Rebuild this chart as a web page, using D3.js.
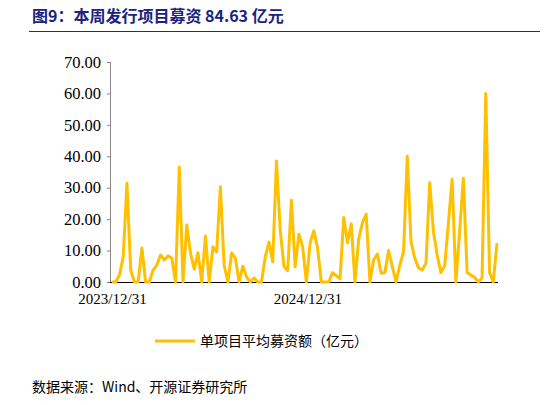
<!DOCTYPE html>
<html><head><meta charset="utf-8">
<script src="https://cdn.jsdelivr.net/npm/d3@7"></script>
<style>body{margin:0;background:#fff}</style>
</head><body><div id="chart"></div>
<script>
const startDate = "2023-12-31";
const values = [0,0,2.2,8,31.4,3.8,0,0,10.8,0,0,3.8,5.4,8.6,7,8.3,7.6,0,36.6,0,18.1,9.2,4.1,9.3,0,14.6,0,11.2,9.6,30.3,5.4,0,9.2,7.6,0,5,1.6,0,1.3,0,0,8,12.7,6.4,38.5,16.5,5,3.6,26,4.8,15.2,11.2,
  0,12.4,16.3,10.8,0,0,0,3,2,1,20.5,12.5,18.5,0,13.7,18.9,21.6,0,7,8.9,2.8,3,10,4.9,0,5.4,9.7,40,12.8,7.6,4.5,3.8,6,31.6,16,8.6,3,5.1,18.8,32.7,0,16,33,3,2.2,1.5,0,1.3,60,3,0,12.4];
const yTicks = [0,10,20,30,40,50,60,70];
const xTickDates = ["2023-12-31","2024-12-31"];
const seriesName = "单项目平均募资额（亿元）";

const W = 546, H = 405;
const svg = d3.select("#chart").append("svg").attr("width", W).attr("height", H);
const parse = d3.timeParse("%Y-%m-%d");
const t0 = parse(startDate);
const data = values.map((v, i) => ({date: d3.timeDay.offset(t0, i * 7), v}));

const x = d3.scaleTime().domain([t0, data[data.length - 1].date]).range([112, 497]);
const y = d3.scaleLinear().domain([0, 70]).range([282, 62]);

svg.append("text").attr("x", 32).attr("y", 22).attr("fill", "#1a237e")
  .attr("font-family", "'Noto Sans CJK SC'").attr("font-weight", "bold").attr("font-size", 16)
  .text("图9：本周发行项目募资 84.63 亿元");
svg.append("line").attr("x1", 29).attr("x2", 540).attr("y1", 31.5).attr("y2", 31.5)
  .attr("stroke", "#333").attr("stroke-width", 1);

const yAxis = svg.append("g").attr("transform", "translate(110,0)")
  .call(d3.axisLeft(y).tickValues(yTicks).tickFormat(d3.format(".2f")).tickSize(3).tickPadding(6));
yAxis.select(".domain").attr("stroke", "#888");
yAxis.selectAll(".tick line").attr("stroke", "#888");
yAxis.selectAll("text").attr("font-family", "'Liberation Serif'").attr("font-size", 16.5).attr("fill", "#000");

const xAxis = svg.append("g").attr("transform", "translate(0,282)")
  .call(d3.axisBottom(x).tickValues(xTickDates.map(parse)).tickFormat(d3.timeFormat("%Y/%m/%d")).tickSize(0).tickPadding(11));
xAxis.select(".domain").attr("stroke", "#000").attr("d", "M110,0.5H498");
xAxis.selectAll("text").attr("font-family", "'Liberation Serif'").attr("font-size", 15).attr("fill", "#000");

svg.append("path").datum(data)
  .attr("fill", "none").attr("stroke", "#FFC000").attr("stroke-width", 3).attr("stroke-linejoin", "round")
  .attr("d", d3.line().x(d => x(d.date)).y(d => y(d.v)));

svg.append("line").attr("x1", 155).attr("x2", 195).attr("y1", 341).attr("y2", 341)
  .attr("stroke", "#FFC000").attr("stroke-width", 3);
svg.append("text").attr("x", 200).attr("y", 346).attr("font-family", "'Noto Sans CJK SC'")
  .attr("font-size", 14).text(seriesName);

svg.append("text").attr("x", 32).attr("y", 392).attr("font-family", "'Noto Sans CJK SC'")
  .attr("font-size", 14).text("数据来源：Wind、开源证券研究所");
</script></body></html>
